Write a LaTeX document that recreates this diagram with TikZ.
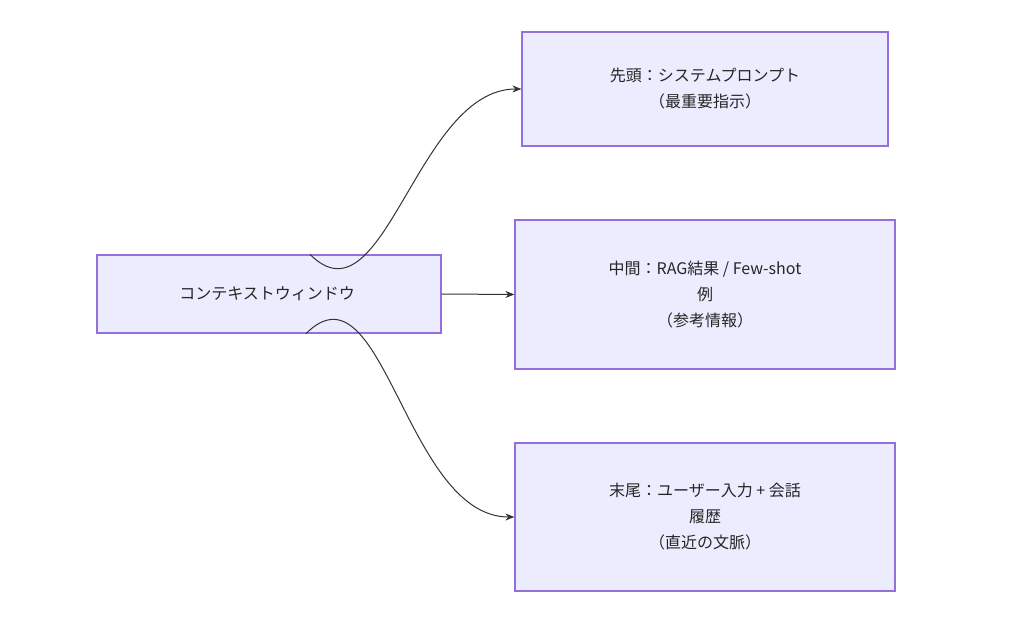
\documentclass[tikz,border=0pt]{standalone}
\usepackage{fontspec}
\setmainfont{Noto Sans CJK JP}
\usetikzlibrary{arrows.meta,positioning}
\definecolor{boxfill}{HTML}{ECECFF}
\definecolor{boxline}{HTML}{9370DB}
\definecolor{edge}{HTML}{333333}

\begin{document}
\begin{tikzpicture}[x=1pt, y=-1pt,
    every node/.style={
        rectangle,
        draw=boxline,
        fill=boxfill,
        line width=1.2pt,
        align=center,
        font=\fontsize{16}{26}\selectfont,
        text=black!85
    },
    link/.style={->, >={Stealth[length=9pt,width=7pt]}, draw=edge, line width=1pt}
]
    \useasboundingbox (0,0) rectangle (1024,617);
    \node (window) [minimum width=344pt, minimum height=78pt] at (269, 294)
    {
        コンテキストウィンドウ
    };
    \node (head) [minimum width=366pt, minimum height=114pt] at (705, 89)
    {
        先頭：システムプロンプト\\（最重要指示）
    };
    \node (middle) [minimum width=380pt, minimum height=149pt] at (705, 294.5)
    {
        中間：RAG結果 / Few-shot\\例\\（参考情報）
    };
    \node (tail) [minimum width=380pt, minimum height=148pt] at (705, 517)
    {
        末尾：ユーザー入力 + 会話\\履歴\\（直近の文脈）
    };
    \draw[link] ([xshift=41pt]window.north) to[out=-45, in=180] (head.west);
    \draw[link] (window.east) to (middle.west);
    \draw[link] ([xshift=37pt]window.south) to[out=45, in=180] (tail.west);
\end{tikzpicture}
\end{document}
